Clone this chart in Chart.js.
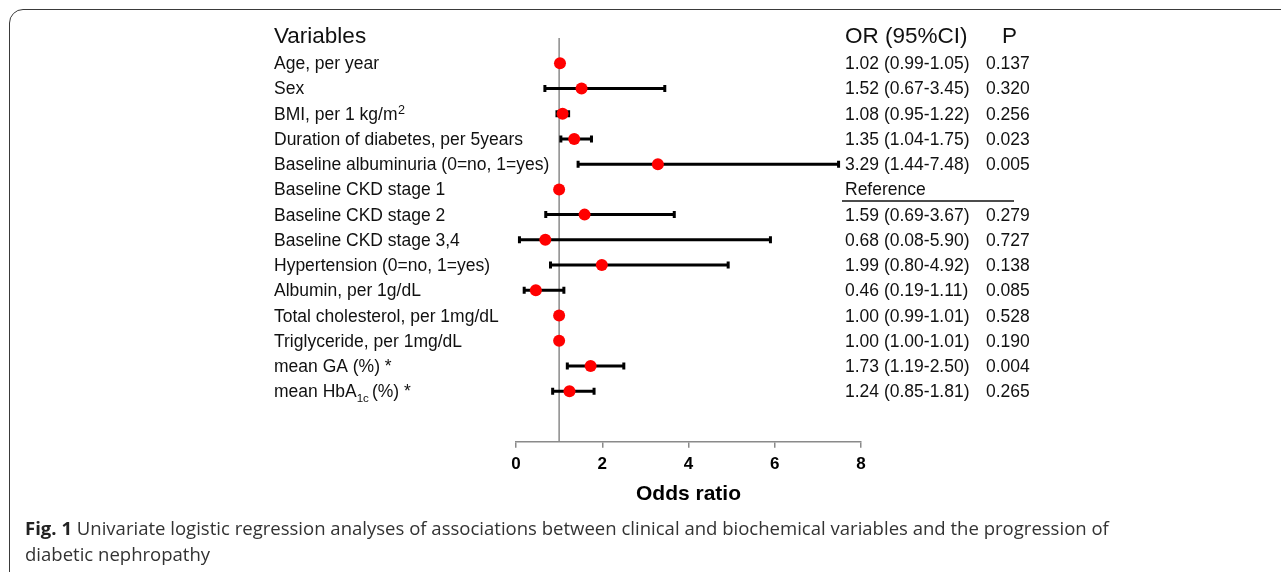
<!DOCTYPE html>
<html>
<head>
<meta charset="utf-8">
<script src="https://cdn.jsdelivr.net/npm/chart.js@4/dist/chart.umd.min.js"></script>
<style>
  html, body { margin: 0; padding: 0; background: #fff; width: 1281px; height: 572px; overflow: hidden; }
  #wrap { position: relative; width: 1281px; height: 572px; }
  #c { position: absolute; left: 0; top: 0; }
  #frame { position: absolute; left: 9px; top: 9px; width: 1400px; height: 700px;
           border: 1.5px solid #3a3a3a; border-radius: 14px; box-sizing: border-box; }
  #caption { position: absolute; left: 25px; top: 515px; font-family: "Open Sans", sans-serif;
             font-size: 16px; line-height: 26px; color: #333; white-space: nowrap; }
  #caption b { color: #222; }
</style>
</head>
<body>
<div id="wrap">
  <canvas id="c" width="1281" height="572"></canvas>
  <div id="frame"></div>
  <div id="caption"><span id="line1"><b>Fig. 1</b> Univariate logistic regression analyses of associations between clinical and biochemical variables and the progression of</span><br><span>diabetic nephropathy</span></div>
</div>
<script>
// ---- data ----
const variables = [
  "Age, per year",
  "Sex",
  "BMI, per 1 kg/m^2",
  "Duration of diabetes, per 5years",
  "Baseline albuminuria (0=no, 1=yes)",
  "Baseline CKD stage 1",
  "Baseline CKD stage 2",
  "Baseline CKD stage 3,4",
  "Hypertension (0=no, 1=yes)",
  "Albumin, per 1g/dL",
  "Total cholesterol, per 1mg/dL",
  "Triglyceride, per 1mg/dL",
  "mean GA (%) *",
  "mean HbA_1c(%) *"
];
const oddsRatios = [1.02, 1.52, 1.08, 1.35, 3.29, 1.00, 1.59, 0.68, 1.99, 0.46, 1.00, 1.00, 1.73, 1.24];
const ciLower    = [0.99, 0.67, 0.95, 1.04, 1.44, null, 0.69, 0.08, 0.80, 0.19, 0.99, 1.00, 1.19, 0.85];
const ciUpper    = [1.05, 3.45, 1.22, 1.75, 7.48, null, 3.67, 5.90, 4.92, 1.11, 1.01, 1.01, 2.50, 1.81];
const orLabels = [
  "1.02 (0.99-1.05)", "1.52 (0.67-3.45)", "1.08 (0.95-1.22)", "1.35 (1.04-1.75)",
  "3.29 (1.44-7.48)", "Reference", "1.59 (0.69-3.67)", "0.68 (0.08-5.90)",
  "1.99 (0.80-4.92)", "0.46 (0.19-1.11)", "1.00 (0.99-1.01)", "1.00 (1.00-1.01)",
  "1.73 (1.19-2.50)", "1.24 (0.85-1.81)"
];
const pValues = ["0.137", "0.320", "0.256", "0.023", "0.005", "", "0.279", "0.727",
                 "0.138", "0.085", "0.528", "0.190", "0.004", "0.265"];
const headers = ["Variables", "OR (95%CI)", "P"];
const xTicks = [0, 2, 4, 6, 8];
const referenceValue = 1;

// ---- helpers ----
const FONT = '"Liberation Sans", Arial, sans-serif';

function drawRich(ctx, text, x, y, size) {
  // supports ^sup and _sub segments
  const parts = text.split(/(\^\w+|_\w+)/).filter(s => s.length);
  let cx = x;
  parts.forEach(p => {
    if (p[0] === '^') {
      ctx.font = (size * 0.72) + 'px ' + FONT;
      ctx.fillText(p.slice(1), cx + 0.5, y - size * 0.32);
      cx += ctx.measureText(p.slice(1)).width + 0.5;
    } else if (p[0] === '_') {
      ctx.font = (size * 0.66) + 'px ' + FONT;
      ctx.fillText(p.slice(1), cx, y + size * 0.28);
      cx += ctx.measureText(p.slice(1)).width + 3;
    } else {
      ctx.font = size + 'px ' + FONT;
      ctx.fillText(p, cx, y);
      cx += ctx.measureText(p).width;
    }
  });
}

const forestPlugin = {
  id: 'forest',
  beforeDatasetsDraw(chart) {
    const ctx = chart.ctx;
    const xs = chart.scales.x, ys = chart.scales.y;
    const area = chart.chartArea;
    ctx.save();
    // reference line
    const rx = xs.getPixelForValue(referenceValue);
    ctx.strokeStyle = '#8a8a8a';
    ctx.lineWidth = 1.5;
    ctx.beginPath();
    ctx.moveTo(rx, area.top);
    ctx.lineTo(rx, area.bottom);
    ctx.stroke();
    // error bars
    ctx.strokeStyle = '#000';
    ctx.lineWidth = 3;
    ctx.lineCap = 'butt';
    for (let i = 0; i < oddsRatios.length; i++) {
      if (ciLower[i] == null || ciUpper[i] == null) continue;
      const y = ys.getPixelForValue(i);
      const x1 = xs.getPixelForValue(ciLower[i]);
      const x2 = xs.getPixelForValue(ciUpper[i]);
      ctx.beginPath();
      ctx.moveTo(x1, y); ctx.lineTo(x2, y);
      ctx.moveTo(x1, y - 3.5); ctx.lineTo(x1, y + 3.5);
      ctx.moveTo(x2, y - 3.5); ctx.lineTo(x2, y + 3.5);
      ctx.stroke();
    }
    ctx.restore();
  },
  afterDraw(chart) {
    const ctx = chart.ctx;
    const ys = chart.scales.y;
    ctx.save();
    ctx.fillStyle = '#111';
    ctx.textBaseline = 'alphabetic';
    ctx.textAlign = 'left';
    const colVar = 274, colOR = 845, colP = 986;
    const hy = ys.getPixelForValue(-1) + 5;
    ctx.font = '22.5px ' + FONT;
    ctx.fillText(headers[0], colVar, hy);
    ctx.fillText(headers[1], colOR, hy);
    ctx.fillText(headers[2], 1002, hy);
    for (let i = 0; i < variables.length; i++) {
      const y = ys.getPixelForValue(i) + 6;
      drawRich(ctx, variables[i], colVar, y, 17.5);
      ctx.font = '17.5px ' + FONT;
      ctx.fillText(orLabels[i], colOR, y);
      if (pValues[i]) ctx.fillText(pValues[i], colP, y);
      if (orLabels[i] === 'Reference') {
        ctx.strokeStyle = '#111';
        ctx.lineWidth = 1.5;
        ctx.beginPath();
        ctx.moveTo(842, y + 5.5);
        ctx.lineTo(1014, y + 5.5);
        ctx.stroke();
      }
    }
    ctx.restore();
  }
};

const points = oddsRatios.map((v, i) => ({ x: v, y: i }));

new Chart(document.getElementById('c'), {
  type: 'scatter',
  data: {
    datasets: [{
      data: points,
      backgroundColor: '#ff0000',
      borderColor: '#ff0000',
      borderWidth: 0,
      pointRadius: 6,
      pointHoverRadius: 6
    }]
  },
  options: {
    responsive: false,
    animation: false,
    devicePixelRatio: 1,
    layout: { padding: { left: 516, right: 420, top: 38, bottom: 0 } },
    plugins: { legend: { display: false }, tooltip: { enabled: false } },
    scales: {
      x: {
        type: 'linear',
        min: xTicks[0],
        max: xTicks[xTicks.length - 1],
        afterBuildTicks: (scale) => { scale.ticks = xTicks.map(v => ({ value: v })); },
        afterFit: (scale) => { scale.height = 130.3; },
        border: { display: true, color: '#8a8a8a', width: 1.5 },
        grid: { display: true, drawOnChartArea: false, drawTicks: true, tickLength: 6, color: '#8a8a8a', lineWidth: 1.5 },
        ticks: { color: '#000', padding: 6, maxRotation: 0, font: { family: FONT, size: 17, weight: 'bold' } },
        title: { display: true, text: 'Odds ratio', color: '#000', padding: { top: 0, bottom: 65 },
                 font: { family: FONT, size: 21, weight: 'bold' } }
      },
      y: {
        type: 'linear',
        min: -1,
        max: 15,
        reverse: true,
        display: false
      }
    }
  },
  plugins: [forestPlugin]
});

// fit caption first line width to the reference (~1085px) by font size
(function () {
  const cap = document.getElementById('caption');
  const l1 = document.getElementById('line1');
  const w = l1.getBoundingClientRect().width;
  const size = 16 * 1085 / w;
  cap.style.fontSize = size.toFixed(2) + 'px';
})();
</script>
</body>
</html>
